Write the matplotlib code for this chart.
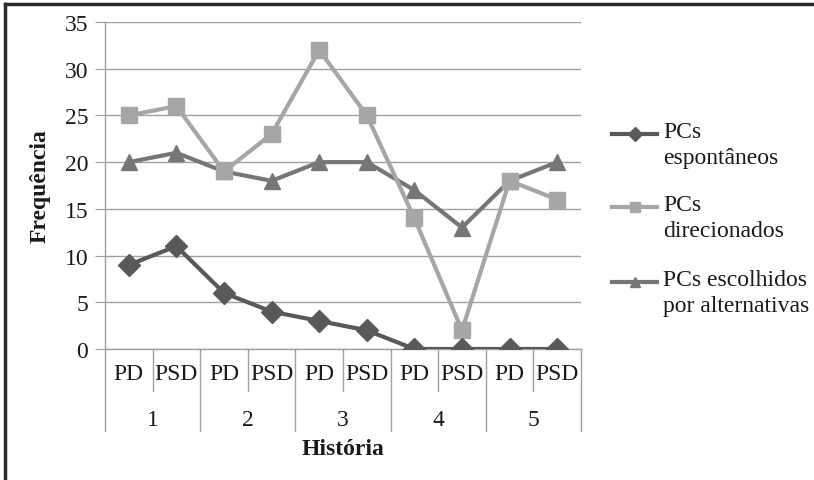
import matplotlib
matplotlib.use("Agg")
import matplotlib.pyplot as plt
from matplotlib.lines import Line2D

# Data
stories = ["1", "2", "3", "4", "5"]
conditions = ["PD", "PSD"]
espontaneos = [9, 11, 6, 4, 3, 2, 0, 0, 0, 0]
direcionados = [25, 26, 19, 23, 32, 25, 14, 2, 18, 16]
escolhidos = [20, 21, 19, 18, 20, 20, 17, 13, 18, 20]
series_labels = ["PCs\nespontâneos", "PCs\ndirecionados", "PCs escolhidos\npor alternativas"]

plt.rcParams['font.family'] = ['Liberation Serif', 'DejaVu Serif']
FS = 17
TXT = '#1a1a1a'
GRID = '#a0a0a0'

fig = plt.figure(figsize=(8.14, 4.81), dpi=100)
ax = fig.add_axes([105 / 814, 1 - 350 / 481, 476 / 814, 327 / 481])

x = list(range(len(stories) * len(conditions)))
styles = [
    (espontaneos, '#595959', 'D', 11),
    (direcionados, '#a6a6a6', 's', 11),
    (escolhidos, '#767676', '^', 12),
]
# draw order: triangles under squares under diamonds like the reference
for vals, col, mk, ms in [styles[2], styles[1], styles[0]]:
    ax.plot(x, vals, color=col, lw=3, marker=mk, markersize=ms, zorder=3)

ax.set_xlim(-0.5, len(x) - 0.5)
ax.set_ylim(0, 35)
ax.set_yticks(range(0, 36, 5))
ax.grid(axis='y', color=GRID, lw=1)
ax.set_axisbelow(True)
ax.tick_params(axis='y', length=7, color=GRID, labelsize=FS, labelcolor=TXT, pad=5)
ax.tick_params(axis='x', length=0, labelsize=FS, labelcolor=TXT, pad=10)
ax.set_xticks(x)
ax.set_xticklabels(conditions * len(stories))
for s in ['top', 'right']:
    ax.spines[s].set_visible(False)
for s in ['left', 'bottom']:
    ax.spines[s].set_color(GRID)
    ax.spines[s].set_linewidth(1)

# multi-level category separators
tr = ax.get_xaxis_transform()
for b in range(len(x) + 1):
    pos = b - 0.5
    low = -0.251 if b % 2 == 0 else -0.128
    ax.plot([pos, pos], [0, low], transform=tr, color=GRID, lw=1, clip_on=False)
for i, st in enumerate(stories):
    ax.text(2 * i + 0.5, -0.215, st, transform=tr, ha='center', va='center',
            fontsize=FS, color=TXT)

ax.text(4.5, -0.303, "História", transform=tr, ha='center', va='center',
        fontsize=FS, fontweight='bold', color=TXT)
ax.set_ylabel("Frequência", fontsize=FS, fontweight='bold', color=TXT, labelpad=10)

# legend, handle aligned with first text line
leg_y = [135, 208, 283]
for (vals, col, mk, ms), lab, yy in zip(styles, series_labels, leg_y):
    yf = 1 - yy / 481
    fig.add_artist(Line2D([612 / 814, 657 / 814], [yf, yf], color=col, lw=3))
    fig.add_artist(Line2D([634.5 / 814], [yf], color=col, marker=mk, markersize=ms * 0.65, lw=0))
    fig.text(663 / 814, yf + 13 / 481, lab, ha='left', va='top', fontsize=FS,
             color=TXT, linespacing=1.3)

# outer frame (top and left edges visible)
fig.add_artist(Line2D([5 / 814, 1.0], [1 - 5 / 481, 1 - 5 / 481], color='#2a2a2a', lw=2.5))
fig.add_artist(Line2D([5 / 814, 5 / 814], [0, 1 - 5 / 481], color='#2a2a2a', lw=2.5))

fig.savefig("out.png", dpi=100)
